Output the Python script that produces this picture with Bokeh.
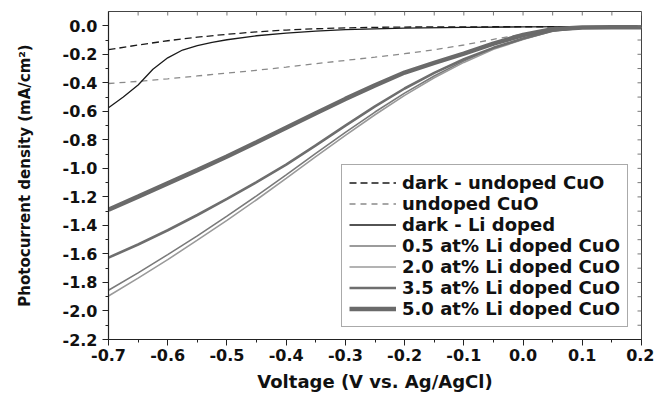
import math
from bokeh.plotting import figure
from bokeh.models import Range1d, FixedTicker, PrintfTickFormatter
from bokeh.embed import file_html
from bokeh.resources import INLINE

# ---- data ----
V = [-0.70, -0.65, -0.60, -0.55, -0.50, -0.45, -0.40, -0.35, -0.30, -0.25,
     -0.20, -0.15, -0.10, -0.05, 0.00, 0.05, 0.10, 0.15, 0.20]

dark_undoped = [-0.168, -0.135, -0.105, -0.080, -0.060, -0.043, -0.030, -0.021, -0.015, -0.011,
                -0.009, -0.008, -0.008, -0.007, -0.007, -0.007, -0.006, -0.006, -0.006]
undoped = [-0.405, -0.390, -0.372, -0.352, -0.332, -0.312, -0.290, -0.266, -0.243, -0.220,
           -0.196, -0.168, -0.135, -0.095, -0.058, -0.025, -0.012, -0.008, -0.006]

V_dark_li = [-0.70, -0.675, -0.65, -0.625, -0.60, -0.575, -0.55, -0.525, -0.50, -0.45,
             -0.40, -0.35, -0.30, -0.20, -0.10, 0.00, 0.10, 0.20]
dark_li = [-0.575, -0.500, -0.415, -0.305, -0.225, -0.170, -0.140, -0.117, -0.098, -0.070,
           -0.051, -0.037, -0.027, -0.016, -0.011, -0.008, -0.006, -0.005]

li_05 = [-1.855, -1.733, -1.605, -1.473, -1.335, -1.193, -1.045, -0.895, -0.748, -0.605,
         -0.472, -0.352, -0.247, -0.157, -0.092, -0.035, -0.013, -0.010, -0.010]
li_20 = [-1.895, -1.770, -1.640, -1.503, -1.365, -1.220, -1.070, -0.918, -0.768, -0.624,
         -0.488, -0.365, -0.257, -0.165, -0.096, -0.037, -0.014, -0.010, -0.010]
li_35 = [-1.626, -1.534, -1.434, -1.327, -1.214, -1.097, -0.974, -0.839, -0.700, -0.565,
         -0.440, -0.330, -0.235, -0.155, -0.090, -0.035, -0.013, -0.010, -0.010]
li_50 = [-1.290, -1.198, -1.105, -1.012, -0.917, -0.817, -0.715, -0.613, -0.513, -0.418,
         -0.328, -0.260, -0.195, -0.125, -0.065, -0.025, -0.012, -0.010, -0.010]

labels = ["dark - undoped CuO", "undoped CuO", "dark - Li doped",
          "0.5 at% Li doped CuO", "2.0 at% Li doped CuO",
          "3.5 at% Li doped CuO", "5.0 at% Li doped CuO"]

x_ticks = [-0.7, -0.6, -0.5, -0.4, -0.3, -0.2, -0.1, 0.0, 0.1, 0.2]
x_minor = [-0.65, -0.55, -0.45, -0.35, -0.25, -0.15, -0.05, 0.05, 0.15]
y_ticks = [-2.2, -2.0, -1.8, -1.6, -1.4, -1.2, -1.0, -0.8, -0.6, -0.4, -0.2, 0.0]
y_minor = [-2.1, -1.9, -1.7, -1.5, -1.3, -1.1, -0.9, -0.7, -0.5, -0.3, -0.1]

X_MIN, X_MAX = -0.7, 0.2
Y_MIN, Y_MAX = -2.2, 0.1

FONT = "DejaVu Sans"

p = figure(width=654, height=394, output_backend="svg", toolbar_location=None,
           x_range=Range1d(X_MIN, X_MAX), y_range=Range1d(Y_MIN, Y_MAX),
           min_border_left=108, min_border_right=13, min_border_top=11,
           min_border_bottom=55)
p.xgrid.visible = False
p.ygrid.visible = False
p.outline_line_color = "#444444"
p.background_fill_color = "white"
p.border_fill_color = "white"

p.line(V, dark_undoped, line_color="#1a1a1a", line_width=1.3, line_dash="7 4",
       legend_label=labels[0])
p.line(V, undoped, line_color="#8a8a8a", line_width=1.3, line_dash="6 5",
       legend_label=labels[1])
p.line(V_dark_li, dark_li, line_color="#1a1a1a", line_width=1.3, legend_label=labels[2])
p.line(V, li_05, line_color="#7a7a7a", line_width=1.6, legend_label=labels[3])
p.line(V, li_20, line_color="#9a9a9a", line_width=1.6, legend_label=labels[4])
p.line(V, li_35, line_color="#6e6e6e", line_width=2.6, legend_label=labels[5])
p.line(V, li_50, line_color="#6a6a6a", line_width=4.5, legend_label=labels[6])

# inward ticks on the top and right frame edges (drawn from the tick lists)
top_x = x_ticks + x_minor
right_y = y_ticks + y_minor
p.ray(x=top_x, y=[Y_MAX] * len(top_x), length=4, length_units="screen",
      angle=-math.pi / 2, line_color="#777777", line_width=1)
p.ray(x=[X_MAX] * len(right_y), y=right_y, length=4, length_units="screen",
      angle=math.pi, line_color="#777777", line_width=1)

# bottom / left axes
for ax, tk, mn in ((p.xaxis[0], x_ticks, x_minor), (p.yaxis[0], y_ticks, y_minor)):
    ax.ticker = FixedTicker(ticks=tk, minor_ticks=mn)
    ax.formatter = PrintfTickFormatter(format="%.1f")
    ax.major_label_text_font = FONT
    ax.major_label_text_font_style = "bold"
    ax.major_label_text_font_size = "16px"
    ax.major_label_text_color = "#111111"
    ax.axis_label_text_font = FONT
    ax.axis_label_text_font_style = "bold"
    ax.axis_label_text_color = "#111111"
    ax.axis_line_color = "#222222"
    ax.axis_line_width = 1.2
    ax.major_tick_line_color = "#222222"
    ax.minor_tick_line_color = "#222222"
    ax.major_tick_in = 0
    ax.major_tick_out = 6
    ax.minor_tick_in = 0
    ax.minor_tick_out = 3

p.xaxis[0].axis_label = "Voltage (V vs. Ag/AgCl)"
p.xaxis[0].axis_label_text_font_size = "18px"
p.xaxis[0].major_label_standoff = 3
p.xaxis[0].axis_label_standoff = 7
p.yaxis[0].axis_label = "Photocurrent density (mA/cm\u00b2)"
p.yaxis[0].axis_label_text_font_size = "15px"
p.yaxis[0].major_label_standoff = 5
p.yaxis[0].axis_label_standoff = 26

lg = p.legend[0]
lg.location = (233, 12)
lg.label_text_font = FONT
lg.label_text_font_style = "bold"
lg.label_text_font_size = "18px"
lg.label_text_color = "#111111"
lg.glyph_width = 47
lg.glyph_height = 21
lg.label_height = 21
lg.label_standoff = 6
lg.spacing = 0
lg.padding = 7
lg.margin = 0
lg.border_line_color = "#555555"
lg.border_line_width = 1
lg.background_fill_color = "white"
lg.background_fill_alpha = 1.0

open("out.html", "w").write(file_html(p, INLINE))
